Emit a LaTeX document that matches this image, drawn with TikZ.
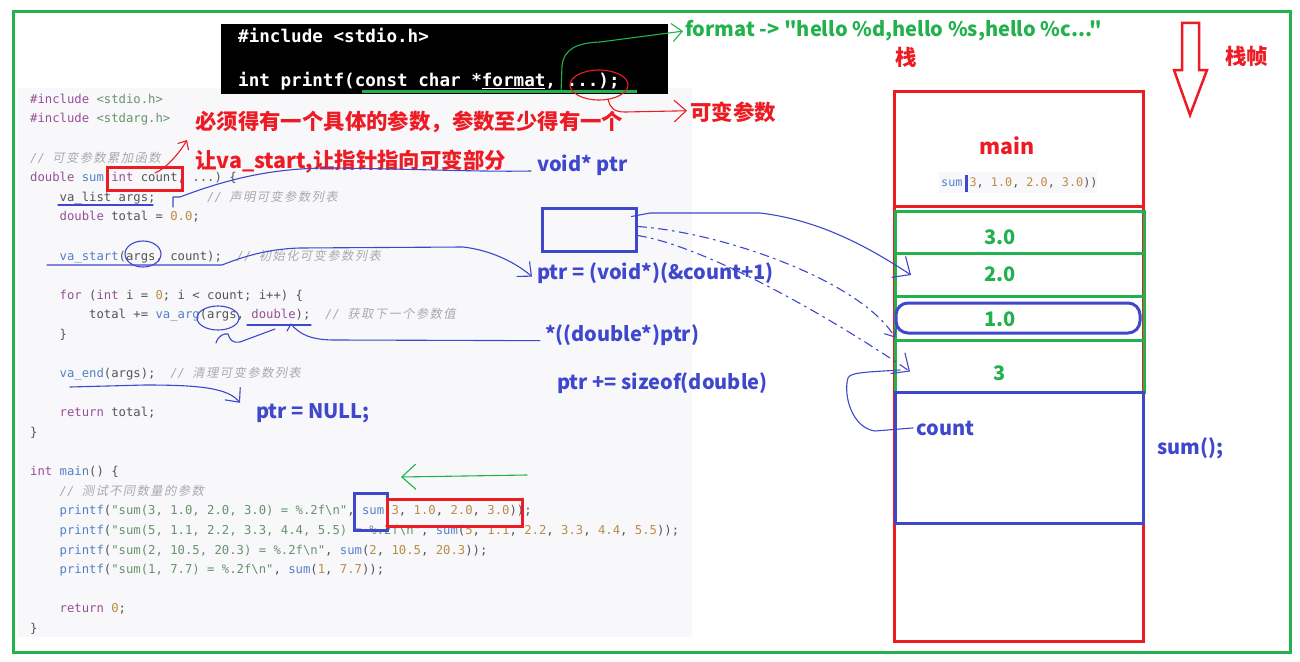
\documentclass[tikz,border=0pt]{standalone}
\usepackage{fontspec}
\usepackage{tikz}
\usetikzlibrary{arrows.meta,positioning,calc}
\newfontfamily\cjk{Noto Sans CJK SC}
\newfontfamily\cjkit{Noto Sans CJK SC}[FakeSlant=0.2,LetterSpace=12]
\newfontfamily\codefont{DejaVu Sans Mono}
\definecolor{pRed}{RGB}{237,28,36}
\definecolor{pGreen}{RGB}{34,177,76}
\definecolor{pBlue}{RGB}{63,72,204}
\definecolor{kwcolor}{RGB}{152,78,150}
\definecolor{fncolor}{RGB}{82,128,200}
\definecolor{numcolor}{RGB}{186,140,70}
\definecolor{strcolor}{RGB}{104,146,108}
\definecolor{txtcolor}{RGB}{84,84,88}
\definecolor{cmtcolor}{RGB}{170,170,172}
\definecolor{panelbg}{RGB}{248,248,250}
\newlength\cw
\setlength\cw{7.375pt}
\newcommand\pad[1]{\hspace*{#1\cw}}
\newcommand\kw[1]{\textcolor{kwcolor}{#1}}
\newcommand\fn[1]{\textcolor{fncolor}{#1}}
\newcommand\nm[1]{\textcolor{numcolor}{#1}}
\newcommand\st[1]{\textcolor{strcolor}{#1}}
\newcommand\cm[1]{\textcolor{cmtcolor}{\itshape //\pad{1}{\cjkit #1}}}

\begin{document}
\begin{tikzpicture}[x=1pt,y=-1pt,
    frame/.style={line width=3pt},
    hand/.style={line width=1.1pt,line cap=round,line join=round},
    barbtip/.style={-{Straight Barb[length=#1,width'=0pt 1.8]}},
    barbtip/.default=11pt,
    dashdot/.style={dash pattern=on 9pt off 5pt on 2pt off 5pt},
    redlbl/.style={text=pRed,font=\cjk\bfseries\fontsize{21.4}{21}\selectfont,anchor=base west,inner sep=0pt},
    bluelbl/.style={text=pBlue,font=\cjk\bfseries\fontsize{20}{20}\selectfont,anchor=base west,inner sep=0pt},
    greenlbl/.style={text=pGreen,font=\cjk\bfseries\fontsize{20}{20}\selectfont,anchor=base west,inner sep=0pt},
    cell/.style={draw=pGreen,line width=3pt,minimum width=249pt,anchor=north west,inner sep=0pt},
    codetext/.style={anchor=north west,inner sep=0pt,align=left,text=txtcolor,
      font=\codefont\fontsize{12.25}{19.6}\selectfont\frenchspacing}]

  \useasboundingbox[fill=white] (0,0) rectangle (1300,661);
  \draw[pGreen,frame] (13,12) rectangle (1290,652);

  % code screenshot
  \fill[panelbg] (18,88) rectangle (692,637);
  \node[codetext] (code) at (30,89.3) {\strut\kw{\#include} \st{<stdio.h>}\\
\kw{\#include} \st{<stdarg.h>}\\
~\\
\cm{可变参数累加函数}\\
\kw{double} \fn{sum}(\kw{int} count, ...) \{\\
\pad{4}va\_list args;\pad{7}\cm{声明可变参数列表}\\
\pad{4}\kw{double} total = \nm{0.0};\\
~\\
\pad{4}\fn{va\_start}(args, count);\pad{2}\cm{初始化可变参数列表}\\
~\\
\pad{4}\kw{for} (\kw{int} i = \nm{0}; i < count; i++) \{\\
\pad{8}total += \fn{va\_arg}(args, \kw{double});\pad{2}\cm{获取下一个参数值}\\
\pad{4}\}\\
~\\
\pad{4}\fn{va\_end}(args);\pad{2}\cm{清理可变参数列表}\\
~\\
\pad{4}\kw{return} total;\\
\}\\
~\\
\kw{int} \fn{main}() \{\\
\pad{4}\cm{测试不同数量的参数}\\
\pad{4}\fn{printf}(\st{"sum(3, 1.0, 2.0, 3.0) = \%.2f\textbackslash n"}, \fn{sum}(\nm{3}, \nm{1.0}, \nm{2.0}, \nm{3.0}));\\
\pad{4}\fn{printf}(\st{"sum(5, 1.1, 2.2, 3.3, 4.4, 5.5) = \%.2f\textbackslash n"}, \fn{sum}(\nm{5}, \nm{1.1}, \nm{2.2}, \nm{3.3}, \nm{4.4}, \nm{5.5}));\\
\pad{4}\fn{printf}(\st{"sum(2, 10.5, 20.3) = \%.2f\textbackslash n"}, \fn{sum}(\nm{2}, \nm{10.5}, \nm{20.3}));\\
\pad{4}\fn{printf}(\st{"sum(1, 7.7) = \%.2f\textbackslash n"}, \fn{sum}(\nm{1}, \nm{7.7}));\\
~\\
\pad{4}\kw{return} \nm{0};\\
\}};

  % terminal with the prototype
  \fill (221,24) rectangle (668,94);
  \node[anchor=base west,inner sep=0pt,text=white,font=\codefont\bfseries\fontsize{17.6}{20}\selectfont] (inc) at (238,42.5) {\#include <stdio.h>};
  \node[anchor=base west,inner sep=0pt,text=white,font=\codefont\bfseries\fontsize{17.6}{20}\selectfont] (proto) at (238,86.5) {int printf(const char *\underline{format}, ...);};

  % notes
  \node[greenlbl] (fmt) at (685,37) {format -> "hello \%d,hello \%s,hello \%c..."};
  \node[redlbl] (varargs) at (690,120) {可变参数};
  \node[redlbl] (needone) at (195,129) {必须得有一个具体的参数，参数至少得有一个};
  \node[redlbl] (pointrest) at (195,168) {让va\_start,让指针指向可变部分};
  \node[bluelbl] (voidptr) at (537,171) {void* ptr};
  \node[bluelbl] (ptrinit) at (537,279) {ptr = (void*)(\&count+1)};
  \node[bluelbl] (deref) at (545,341) {*((double*)ptr)};
  \node[bluelbl] (advance) at (557,389) {ptr += sizeof(double)};
  \node[bluelbl] (ptrnull) at (256,418) {ptr = NULL;};
  \node[redlbl] (stk) at (895,65) {栈};
  \node[redlbl] (frm) at (1225,64) {栈帧};

  % hand marks on the prototype
  \draw[pGreen,line width=3pt] (362,91) -- (637,91);
  \draw[pGreen,hand,barbtip=10pt] (561,92) -- (562,66) .. controls (564,48) and (578,43) .. (600,42) -- ([xshift=-2pt]fmt.west);
  \draw[pRed,hand] (599,85) ellipse (29 and 15);
  \draw[pRed,hand,barbtip=12pt] (608,99) .. controls (610,108) and (614,112) .. (625,112) -- ([xshift=-3pt,yshift=1pt]varargs.west);

  % hand marks on the code
  \draw[pRed,frame] (107,167) rectangle (182,190);
  \draw[pRed,hand,barbtip=7pt] (155,173) .. controls (167,168) and (180,152) .. (187,140);
  \draw[pBlue,hand] (58,205) -- (153,205);
  \draw[pBlue,hand] (173,207) -- (173,197) -- (180,197) .. controls (225,180) and (270,168) .. (330,168)
    .. controls (420,169) and (480,172) .. ([xshift=-6pt]voidptr.base west);
  \draw[pBlue,hand] (143,254) ellipse (18 and 13);
  \draw[pBlue,hand,barbtip] (47,265) -- (222,265) .. controls (240,258) and (265,249) .. (300,248) -- (463,247)
    .. controls (490,250) and (515,262) .. ([xshift=-5pt,yshift=-4pt]ptrinit.west);
  \draw[pBlue,hand] (218,318) ellipse (21 and 12);
  \draw[pBlue,hand] (247,325) -- (311,325);
  \draw[pBlue,hand] (216,343) .. controls (218,336) and (224,333) .. (228,334) .. controls (230,340) and (232,343) .. (240,342) -- (275,329);
  \draw[pBlue,hand] (287,331) -- (291,324) .. controls (300,335) and (312,340) .. (335,340) -- ([xshift=-5pt,yshift=-6pt]deref.west);
  \draw[pBlue,hand,barbtip] (70,387) -- (145,385) .. controls (200,385) and (228,388) .. ([xshift=-16pt,yshift=10pt]ptrnull.west);
  \draw[pGreen,hand,barbtip=14pt] (527,475) -- (401,477);
  \draw[pBlue,frame] (354,493) rectangle (387,530);
  \draw[pRed,frame] (387,499) rectangle (522,526);

  % the stack
  \draw[pRed,frame] (894,91) rectangle (1143,641);
  \draw[pRed,frame] (894,206) -- (1143,206);
  \node[redlbl] (mainlbl) at (979,154) {main};
  \fill[panelbg] (939,172) rectangle (1097,193);
  \begin{scope}
    \clip (939,172) rectangle (1097,193);
    \node[anchor=base west,inner sep=0pt,text=txtcolor,font=\codefont\fontsize{11.8}{14}\selectfont] (snippet) at (941,186.5)
      {\fn{sum}(\nm{3}, \nm{1.0}, \nm{2.0}, \nm{3.0}))};
  \end{scope}
  \fill[pBlue] (965,175) rectangle (968,192);
  \foreach \top/\bot/\val/\base [count=\i] in {210/252/3.0/244, 252/295/2.0/281, 295/339/1.0/326, 339/391/3/380} {
    \node[cell,minimum height={\bot-\top}] (cell\i) at (894,\top) {};
    \node[greenlbl,anchor=base] (val\i) at (1000,\base) {\val};
  }
  \draw[pBlue,frame,rounded corners=12pt] (896,303) rectangle (1140,333);
  \draw[pBlue,frame] (895,392) rectangle (1143,523);
  \node[bluelbl] (countlbl) at (916,435) {count};
  \node[bluelbl] (sumcall) at (1157,454) {sum();};
  \draw[pRed,line width=2.5pt] (1182,23) -- (1199,23) -- (1199,70) -- (1207,70) -- (1190,115) -- (1174,70) -- (1182,70) -- cycle;

  % where ptr points
  \node[draw=pBlue,line width=3pt,minimum width=94pt,minimum height=43pt,inner sep=0pt] (ptrbox) at (589,229.5) {};
  \draw[pBlue,hand,barbtip=14pt] ([xshift=-6pt,yshift=13pt]ptrbox.east) -- (650,213) -- (760,213)
    .. controls (820,220) and (870,248) .. ([xshift=17pt]cell2.west);
  \draw[pBlue,hand,dashdot,barbtip=8pt] ([yshift=3pt]ptrbox.east) .. controls (720,232) and (860,280) .. ([xshift=1pt,yshift=-19pt]cell3.west);
  \draw[pBlue,hand,dashdot,barbtip=14pt] ([yshift=-6pt]ptrbox.east) .. controls (700,245) and (820,310) .. ([xshift=16pt,yshift=-5pt]cell4.west);
  \draw[pBlue,hand] ([xshift=-3pt]countlbl.west) -- (875,431) .. controls (852,428) and (843,395) .. (848,378)
    .. controls (850,372) and (870,372) .. (900,370);
\end{tikzpicture}
\end{document}
